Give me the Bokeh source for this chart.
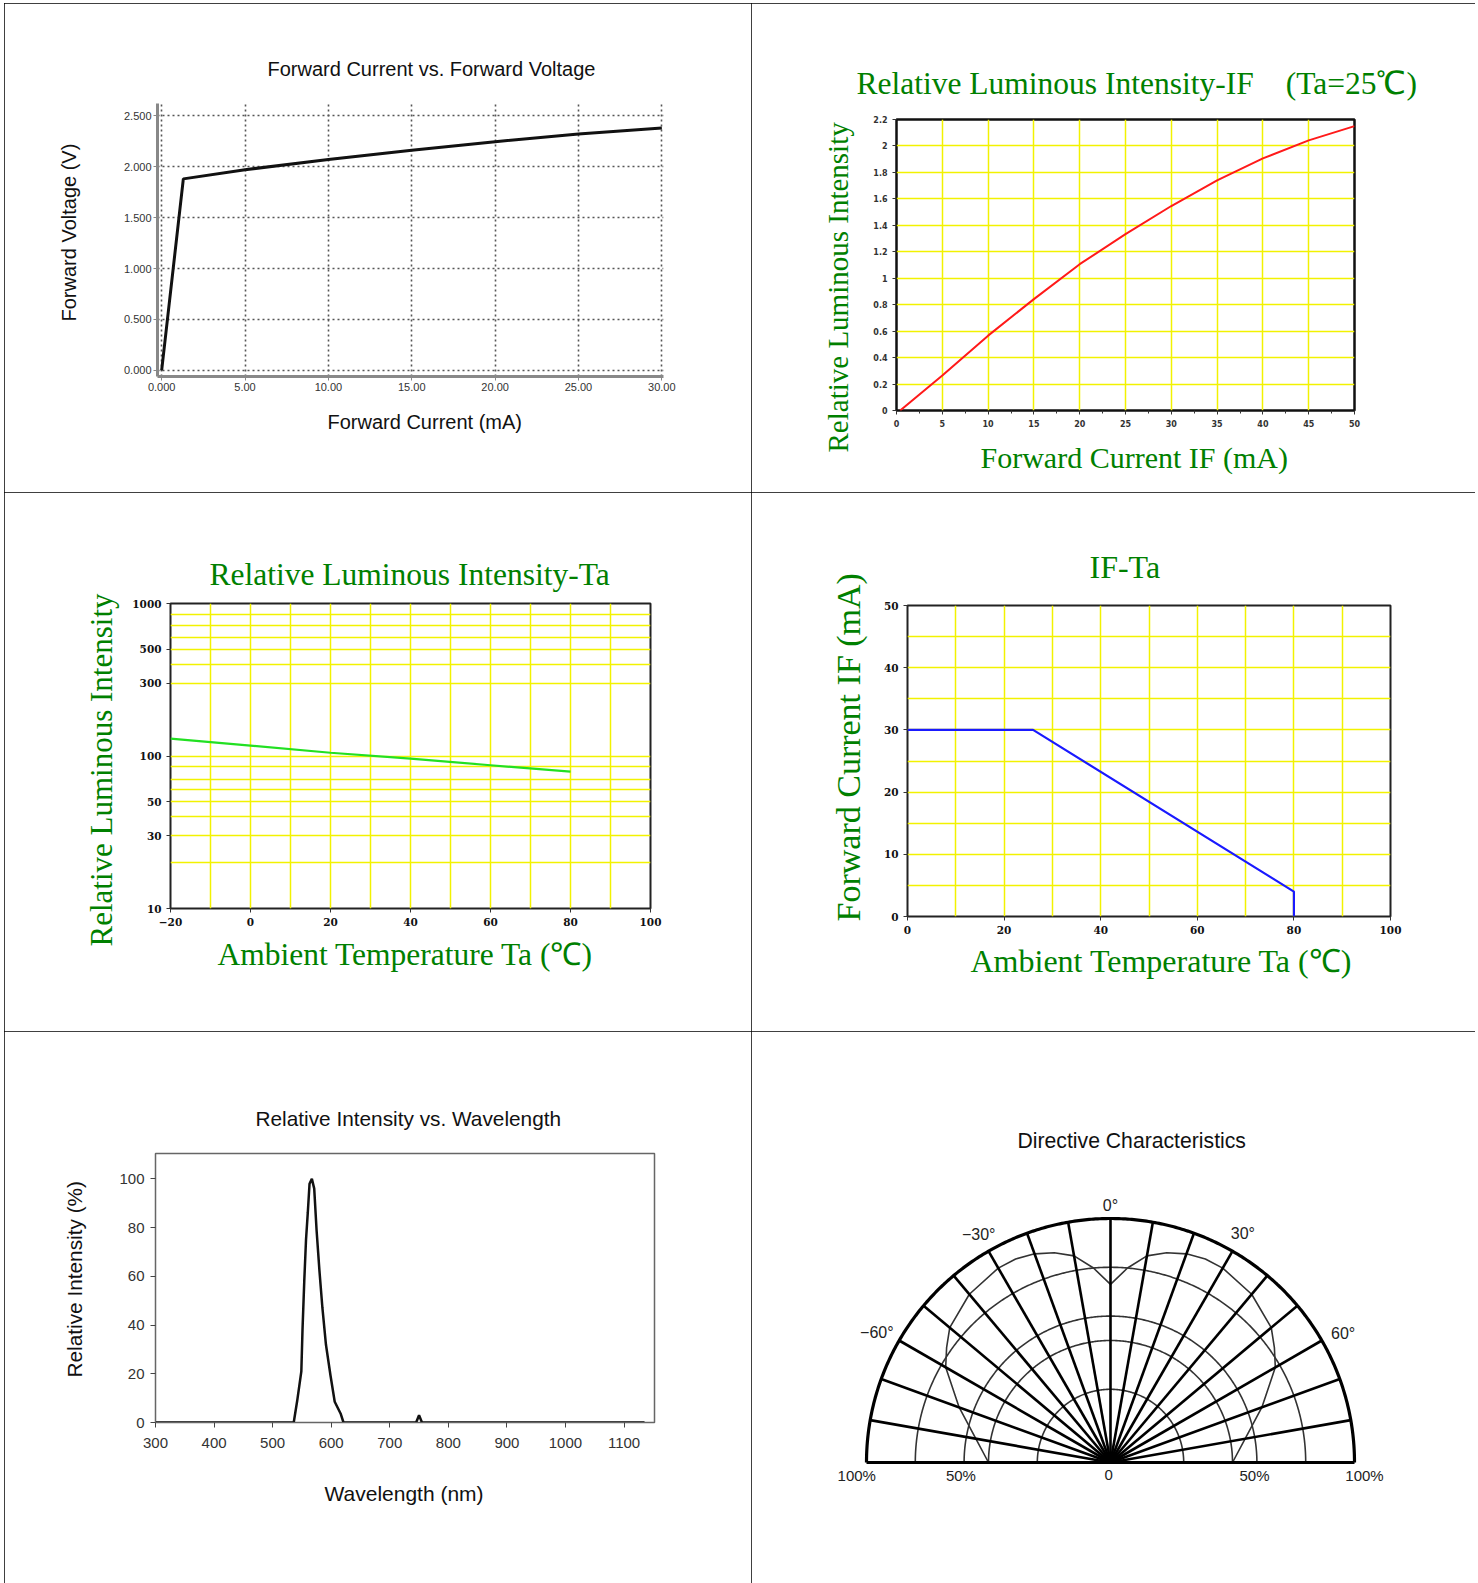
import numpy as np
from bokeh.plotting import figure
from bokeh.layouts import row, column
from bokeh.models import Range1d, FixedTicker, Label, Title
from bokeh.embed import file_html
from bokeh.resources import INLINE

# ---------------- data ----------------
# 1. Forward current vs forward voltage
fv_current_ma = [0.0, 1.3, 5.0, 10.0, 15.0, 20.0, 25.0, 30.0]
fv_voltage_v = [0.0, 1.88, 1.97, 2.07, 2.16, 2.245, 2.32, 2.38]
fv_x_ticks = [0, 5, 10, 15, 20, 25, 30]
fv_x_labels = ["0.000", "5.00", "10.00", "15.00", "20.00", "25.00", "30.00"]
fv_y_ticks = [0, 0.5, 1.0, 1.5, 2.0, 2.5]
fv_y_labels = ["0.000", "0.500", "1.000", "1.500", "2.000", "2.500"]

# 2. Relative luminous intensity vs IF
rif_current = [0.4, 5, 10, 15, 20, 25, 30, 35, 40, 45, 50]
rif_intensity = [0.0, 0.264, 0.566, 0.842, 1.106, 1.333, 1.546, 1.74, 1.906, 2.042, 2.15]
rif_x_ticks = [0, 5, 10, 15, 20, 25, 30, 35, 40, 45, 50]
rif_x_minor = [2.5, 7.5, 12.5, 17.5, 22.5, 27.5, 32.5, 37.5, 42.5, 47.5]
rif_y_ticks = [0, 0.2, 0.4, 0.6, 0.8, 1.0, 1.2, 1.4, 1.6, 1.8, 2.0, 2.2]
rif_y_labels = ["0", "0.2", "0.4", "0.6", "0.8", "1", "1.2", "1.4", "1.6", "1.8", "2", "2.2"]

# 3. Relative luminous intensity vs Ta (log axis)
rta_temp = [-20, 0, 20, 40, 60, 80]
rta_intensity = [130, 117, 105, 96, 87, 79]
rta_x_ticks = [-20, 0, 20, 40, 60, 80, 100]
rta_x_labels = ["\u221220", "0", "20", "40", "60", "80", "100"]
rta_x_grid = [-10, 0, 10, 20, 30, 40, 50, 60, 70, 80, 90]
rta_y_ticks = [10, 30, 50, 100, 300, 500, 1000]
rta_y_grid = [20, 30, 40, 50, 60, 70, 85, 100, 300, 400, 500, 600, 720, 850]

# 4. IF vs Ta derating
der_temp = [0, 26, 80, 80]
der_current = [30, 30, 4, 0]
der_x_ticks = [0, 20, 40, 60, 80, 100]
der_x_grid = [10, 20, 30, 40, 50, 60, 70, 80, 90]
der_y_ticks = [0, 10, 20, 30, 40, 50]
der_y_grid = [5, 10, 15, 20, 25, 30, 35, 40, 45]

# 5. Spectrum
wl_nm = [300, 536, 542, 549, 551, 554, 557, 560, 563, 567, 571, 575, 580, 585,
         591, 599, 606, 616, 621, 745, 750, 755, 1135]
wl_rel = [0, 0, 9, 21, 38, 58, 75, 86, 98, 100, 96, 79, 62, 47,
          32, 19, 8.5, 3.7, 0, 0, 3, 0, 0]
wl_x_ticks = [300, 400, 500, 600, 700, 800, 900, 1000, 1100]
wl_y_ticks = [0, 20, 40, 60, 80, 100]

# 6. Directive characteristics (angle from axis in deg, relative intensity)
dir_angle = [-90, -80, -70, -60, -55, -50, -40, -30, -25, -20, -15, -10, -5, 0,
             5, 10, 15, 20, 25, 30, 40, 50, 55, 60, 70, 80, 90]
dir_rel = [0.50, 0.56, 0.66, 0.78, 0.82, 0.86, 0.90, 0.92, 0.92, 0.91, 0.89, 0.86, 0.80, 0.73,
           0.80, 0.86, 0.89, 0.91, 0.92, 0.92, 0.90, 0.86, 0.82, 0.78, 0.66, 0.56, 0.50]
dir_spokes = [-80, -70, -60, -50, -40, -30, -20, -10, 0, 10, 20, 30, 40, 50, 60, 70, 80]
dir_rings = [0.3, 0.5, 0.6, 0.8]
dir_angle_labels = ["\u221260\u00b0", "\u221230\u00b0", "0\u00b0", "30\u00b0", "60\u00b0"]
dir_angle_label_pos = [-61, -30, 0, 30, 61]
dir_angle_label_r = [1.095, 1.08, 1.055, 1.085, 1.09]
dir_scale_labels = ["100%", "50%", "0", "50%", "100%"]
dir_scale_label_x = [-1.04, -0.613, -0.008, 0.59, 1.041]

# ---------------- layout constants (page pixels) ----------------
COLX = [4, 751, 1475]
ROWY = [3, 492, 1031, 1583]
GREEN = "#008000"
YELLOW = "#f2f200"
SERIF = "Liberation Serif"
SANS = "Liberation Sans"
TICKSERIF = "DejaVu Serif"


def make_fig(col, rw, frame, xr, yr, **kw):
    x0, x1 = COLX[col], COLX[col + 1]
    y0, y1 = ROWY[rw], ROWY[rw + 1]
    l, t, r, b = frame
    p = figure(width=x1 - x0, height=y1 - y0, x_range=xr, y_range=yr,
               min_border_left=l - x0, min_border_right=x1 - r,
               min_border_top=t - y0, min_border_bottom=y1 - b,
               output_backend="svg", toolbar_location=None, **kw)
    p.frame_align = False
    p.styles = {"outline": "1.5px solid #000", "outline-offset": "-1.5px"}
    p.background_fill_color = "white"
    p.border_fill_color = "white"
    return p


def set_main_title(p, text, font, size, color, offset, standoff):
    t = p.title
    t.text = text
    t.align = "left"
    t.offset = offset
    t.standoff = standoff
    t.vertical_align = "bottom"
    t.text_font = font
    t.text_font_size = f"{size}px"
    t.text_color = color
    t.text_font_style = "normal"


def side_title(p, side, text, font, size, color, offset, standoff, valign):
    t = Title(text=text, align="left", offset=offset, standoff=standoff, vertical_align=valign,
              text_font=font, text_font_size=f"{size}px", text_color=color, text_font_style="normal")
    p.add_layout(t, side)


def style_ticks(p, font, size, color, bold=False):
    for ax in (p.xaxis[0], p.yaxis[0]):
        ax.major_label_text_font = font
        ax.major_label_text_font_size = f"{size}px"
        ax.major_label_text_color = color
        ax.major_label_text_font_style = "bold" if bold else "normal"
        ax.minor_tick_line_color = None


# ---------- Panel 1 ----------
f1 = (157, 103, 663, 376)
p1 = make_fig(0, 0, f1, Range1d(-0.25, 30.1), Range1d(-0.06, 2.62))
p1.outline_line_color = None
p1.line(fv_current_ma, fv_voltage_v, line_color="#111", line_width=3)
p1.xaxis.ticker = FixedTicker(ticks=fv_x_ticks)
p1.yaxis.ticker = FixedTicker(ticks=fv_y_ticks)
p1.xaxis.major_label_overrides = dict(zip(fv_x_ticks, fv_x_labels))
p1.yaxis.major_label_overrides = dict(zip(fv_y_ticks, fv_y_labels))
style_ticks(p1, SANS, 11, "#333")
for ax in (p1.xaxis[0], p1.yaxis[0]):
    ax.axis_line_color = "#888"
    ax.axis_line_width = 3
    ax.major_tick_line_color = "#888"
    ax.major_tick_in = 0
    ax.major_tick_out = 4
    ax.major_label_standoff = 2
p1.grid.grid_line_color = "#555"
p1.grid.grid_line_dash = "2 3"
p1.grid.grid_line_width = 1.6
set_main_title(p1, "Forward Current vs. Forward Voltage", SANS, 20, "#111", 110, 48)
side_title(p1, "left", "Forward Voltage (V)", SANS, 20, "#111", 55, 82, "bottom")
side_title(p1, "below", "Forward Current (mA)", SANS, 20, "#111", 170, 34, "top")

# ---------- Panel 2 ----------
f2 = (896, 119, 1354, 410)
p2 = make_fig(1, 0, f2, Range1d(0, 50), Range1d(0, 2.2))
p2.outline_line_color = "#111"
p2.outline_line_width = 2.5
p2.xaxis.ticker = FixedTicker(ticks=rif_x_ticks, minor_ticks=rif_x_minor)
p2.yaxis.ticker = FixedTicker(ticks=rif_y_ticks)
p2.yaxis.major_label_overrides = dict(zip(rif_y_ticks, rif_y_labels))
p2.xgrid.ticker = FixedTicker(ticks=rif_x_ticks[1:-1])
p2.ygrid.ticker = FixedTicker(ticks=rif_y_ticks[1:-1])
p2.grid.grid_line_color = YELLOW
p2.grid.grid_line_width = 1.5
style_ticks(p2, "DejaVu Sans", 8, "#333", bold=True)
p2.xaxis.minor_tick_line_color = "#333"
p2.xaxis.minor_tick_out = 3
p2.xaxis.minor_tick_in = 0
for ax in (p2.xaxis[0], p2.yaxis[0]):
    ax.axis_line_color = None
    ax.major_tick_in = 0
    ax.major_tick_out = 4
    ax.major_tick_line_color = "#333"
p2.line(rif_current, rif_intensity, line_color="#ff1a1a", line_width=2)
set_main_title(p2, "Relative Luminous Intensity-IF\u3000(Ta=25\u2103)", SERIF, 31.5, GREEN, -40, 38)
side_title(p2, "left", "Relative Luminous Intensity", SERIF, 29, GREEN, -42, 34, "bottom")
side_title(p2, "below", "Forward Current IF (mA)", SERIF, 30, GREEN, 84, 22, "top")

# ---------- Panel 3 ----------
f3 = (170, 603, 650, 908)
p3 = make_fig(0, 1, f3, Range1d(-20, 100), Range1d(10, 1000), y_axis_type="log")
p3.outline_line_color = "#222"
p3.outline_line_width = 2
p3.xaxis.ticker = FixedTicker(ticks=rta_x_ticks)
p3.xaxis.major_label_overrides = dict(zip(rta_x_ticks, rta_x_labels))
p3.yaxis.ticker = FixedTicker(ticks=rta_y_ticks)
p3.yaxis.major_label_overrides = {v: str(v) for v in rta_y_ticks}
p3.xgrid.ticker = FixedTicker(ticks=rta_x_grid)
p3.ygrid.ticker = FixedTicker(ticks=rta_y_grid)
p3.grid.grid_line_color = YELLOW
p3.grid.grid_line_width = 1.5
style_ticks(p3, TICKSERIF, 10.5, "#111", bold=True)
for ax in (p3.xaxis[0], p3.yaxis[0]):
    ax.axis_line_color = None
    ax.major_tick_in = 0
    ax.major_tick_out = 4
    ax.major_tick_line_color = "#333"
p3.line(rta_temp, rta_intensity, line_color="#22e022", line_width=2.2)
set_main_title(p3, "Relative Luminous Intensity-Ta", SERIF, 31.5, GREEN, 39, 24)
side_title(p3, "left", "Relative Luminous Intensity", SERIF, 31, GREEN, -38, 22, "bottom")
side_title(p3, "below", "Ambient Temperature Ta (\u2103)", SERIF, 31.5, GREEN, 47, 17, "top")

# ---------- Panel 4 ----------
f4 = (907, 605, 1390, 916)
p4 = make_fig(1, 1, f4, Range1d(0, 100), Range1d(0, 50))
p4.outline_line_color = "#222"
p4.outline_line_width = 2
p4.xaxis.ticker = FixedTicker(ticks=der_x_ticks)
p4.yaxis.ticker = FixedTicker(ticks=der_y_ticks)
p4.xgrid.ticker = FixedTicker(ticks=der_x_grid)
p4.ygrid.ticker = FixedTicker(ticks=der_y_grid)
p4.grid.grid_line_color = YELLOW
p4.grid.grid_line_width = 1.5
style_ticks(p4, TICKSERIF, 10.5, "#111", bold=True)
for ax in (p4.xaxis[0], p4.yaxis[0]):
    ax.axis_line_color = None
    ax.major_tick_in = 0
    ax.major_tick_out = 4
    ax.major_tick_line_color = "#333"
p4.line(der_temp, der_current, line_color="#1a1aff", line_width=2.2)
set_main_title(p4, "IF-Ta", SERIF, 32, GREEN, 182, 42)
side_title(p4, "left", "Forward Current IF (mA)", SERIF, 34, GREEN, -5, 27, "bottom")
side_title(p4, "below", "Ambient Temperature Ta (\u2103)", SERIF, 32, GREEN, 63, 12, "top")

# ---------- Panel 5 ----------
f5 = (155, 1153, 654, 1422)
p5 = make_fig(0, 2, f5, Range1d(300, 1152), Range1d(0, 110.4))
p5.outline_line_color = "#666"
p5.outline_line_width = 1.5
p5.grid.grid_line_color = None
p5.xaxis.ticker = FixedTicker(ticks=wl_x_ticks)
p5.yaxis.ticker = FixedTicker(ticks=wl_y_ticks)
style_ticks(p5, SANS, 15, "#333")
for ax in (p5.xaxis[0], p5.yaxis[0]):
    ax.axis_line_color = "#666"
    ax.major_tick_in = 0
    ax.major_tick_out = 5
    ax.major_tick_line_color = "#444"
p5.xaxis.major_label_standoff = 10
p5.yaxis.major_label_standoff = 6
p5.line(wl_nm, wl_rel, line_color="#111", line_width=2.5)
set_main_title(p5, "Relative Intensity vs. Wavelength", SANS, 20.8, "#111", 100, 48)
side_title(p5, "left", "Relative Intensity (%)", SANS, 20.8, "#111", 45, 62, "bottom")
side_title(p5, "below", "Wavelength (nm)", SANS, 21, "#111", 169, 62, "top")

# ---------- Panel 6 ----------
CX, CY, R = 1110, 1462, 244
f6 = (830, 1188, 1390, 1492)
p6 = make_fig(1, 2, f6, Range1d((f6[0] - CX) / R, (f6[2] - CX) / R),
              Range1d((CY - f6[3]) / R, (CY - f6[1]) / R),
              x_axis_location=None, y_axis_location=None)
p6.outline_line_color = None
p6.grid.visible = False
theta = np.radians(np.linspace(-90, 90, 361))
for rr in dir_rings:
    p6.line(rr * np.sin(theta), rr * np.cos(theta), line_color="#333", line_width=1.6)
pa = np.radians(dir_angle)
p6.line(np.array(dir_rel) * np.sin(pa), np.array(dir_rel) * np.cos(pa), line_color="#333", line_width=1.6)
sp = np.radians(dir_spokes)
p6.segment(x0=0, y0=0, x1=np.sin(sp), y1=np.cos(sp), line_color="#000", line_width=2.6)
p6.line(np.sin(theta), np.cos(theta), line_color="#000", line_width=3.2)
p6.line([-1, 1], [0, 0], line_color="#000", line_width=3.2)
for lab, ang, rr in zip(dir_angle_labels, dir_angle_label_pos, dir_angle_label_r):
    a = np.radians(ang)
    p6.add_layout(Label(x=rr * np.sin(a), y=rr * np.cos(a), text=lab, text_align="center",
                        text_baseline="middle", text_font=SANS, text_font_size="16px", text_color="#222"))
for lab, xx in zip(dir_scale_labels, dir_scale_label_x):
    p6.add_layout(Label(x=xx, y=-0.053, text=lab, text_align="center", text_baseline="middle",
                        text_font=SANS, text_font_size="15px", text_color="#222"))
set_main_title(p6, "Directive Characteristics", SANS, 21.2, "#111", 187, 73)

layout = column(row(p1, p2), row(p3, p4), row(p5, p6))
layout.styles = {"margin-left": "4px", "margin-top": "3px"}
open("out.html", "w").write(file_html(layout, INLINE))
